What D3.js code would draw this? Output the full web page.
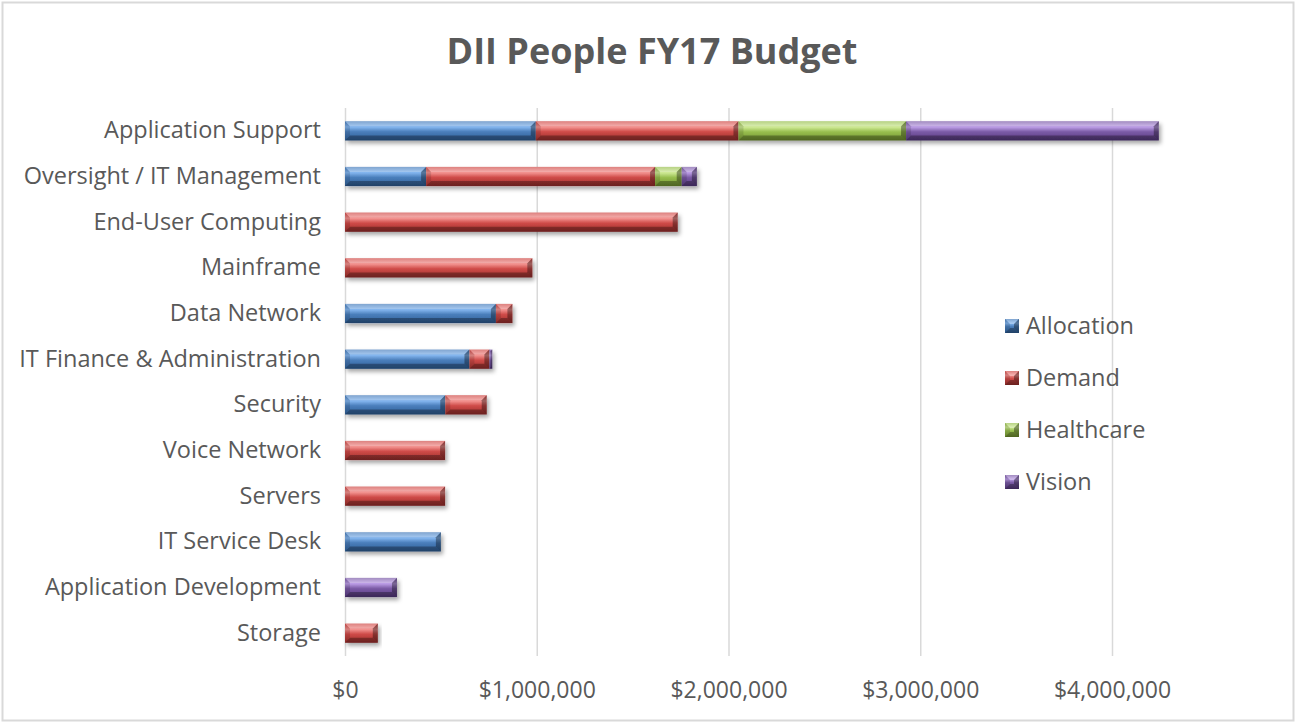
<!DOCTYPE html>
<html>
<head>
<meta charset="utf-8">
<script src="https://cdn.jsdelivr.net/npm/d3@7"></script>
<style>
  body { margin: 0; background: #fff; }
  svg { display: block; }
</style>
</head>
<body>
<div id="chart"></div>
<script>
const categories = [
  'Application Support', 'Oversight / IT Management', 'End-User Computing', 'Mainframe',
  'Data Network', 'IT Finance & Administration', 'Security', 'Voice Network',
  'Servers', 'IT Service Desk', 'Application Development', 'Storage'
]
const seriesNames = ['Allocation', 'Demand', 'Healthcare', 'Vision']
const allocation = [995000, 423000, 0, 0, 787000, 649000, 523000, 0, 0, 500000, 0, 0]
const demand = [1057000, 1194000, 1735000, 977000, 86000, 104000, 216000, 522000, 522000, 0, 0, 171000]
const healthcare = [874000, 139000, 0, 0, 0, 0, 0, 0, 0, 0, 0, 0]
const vision = [1318000, 79000, 0, 0, 0, 15000, 0, 0, 0, 0, 271000, 0]
const xTicks = [0, 1000000, 2000000, 3000000, 4000000]

const width = 1296, height = 723
const margin = { top: 108, left: 345, right: 184, bottom: 67 }
const fontFamily = '"Open Sans", Lato, sans-serif'
const textColor = '#595959'

const palette = {
  Allocation: { base: '#4a7ebb', light: '#84b6ef', dark: '#2f5f97' },
  Demand: { base: '#cf4b48', light: '#f39390', dark: '#9b2f2c' },
  Healthcare: { base: '#98bf4f', light: '#cfea96', dark: '#71922f' },
  Vision: { base: '#7b5ba6', light: '#bc9ee6', dark: '#57397f' }
}

const rows = categories.map((c, i) => ({
  category: c,
  Allocation: allocation[i],
  Demand: demand[i],
  Healthcare: healthcare[i],
  Vision: vision[i]
}))

const svg = d3.select('#chart').append('svg')
  .attr('width', width)
  .attr('height', height)

// outer chart border
svg.append('rect')
  .attr('x', 2.5).attr('y', 2.5)
  .attr('width', width - 5).attr('height', height - 5)
  .attr('fill', '#fff')
  .attr('stroke', '#d9d9d9')
  .attr('stroke-width', 2)

const defs = svg.append('defs')
defs.append('filter')
  .attr('id', 'shadow')
  .attr('x', '-10%').attr('y', '-50%').attr('width', '120%').attr('height', '200%')
  .append('feDropShadow')
  .attr('dx', 2).attr('dy', 3)
  .attr('stdDeviation', 2)
  .attr('flood-color', '#000')
  .attr('flood-opacity', 0.35)

seriesNames.forEach(name => {
  const p = palette[name]
  const g = defs.append('linearGradient')
    .attr('id', 'grad-' + name)
    .attr('x1', 0).attr('y1', 0).attr('x2', 0).attr('y2', 1)
  g.append('stop').attr('offset', '0%').attr('stop-color', p.base)
  g.append('stop').attr('offset', '30%').attr('stop-color', p.light)
  g.append('stop').attr('offset', '55%').attr('stop-color', p.base)
  g.append('stop').attr('offset', '100%').attr('stop-color', p.dark)
})

const x = d3.scaleLinear()
  .domain([0, 4000000])
  .range([margin.left, margin.left + 767])

const y = d3.scaleBand()
  .domain(categories)
  .range([margin.top, height - margin.bottom])
  .paddingInner(0.58)
  .paddingOuter(0.29)

// gridlines
const grid = svg.append('g')
  .attr('transform', `translate(0, ${height - margin.bottom})`)
  .call(d3.axisBottom(x).tickValues(xTicks).tickSize(-(height - margin.bottom - margin.top)).tickFormat(''))
grid.select('.domain').remove()
grid.selectAll('.tick line').attr('stroke', '#d9d9d9').attr('stroke-width', 1.5)

// x axis labels
const xAxis = svg.append('g')
  .attr('transform', `translate(0, ${height - margin.bottom})`)
  .call(d3.axisBottom(x).tickValues(xTicks).tickSize(0).tickPadding(26).tickFormat(d3.format('$,')))
xAxis.select('.domain').remove()
xAxis.selectAll('.tick text')
  .attr('font-size', 23)
  .attr('font-family', fontFamily)
  .style('fill', textColor)

// y axis labels
const yAxis = svg.append('g')
  .attr('transform', `translate(${margin.left}, 0)`)
  .call(d3.axisLeft(y).tickSize(0).tickPadding(24))
yAxis.select('.domain').remove()
yAxis.selectAll('.tick text')
  .attr('font-size', 23.5)
  .attr('font-family', fontFamily)
  .style('fill', textColor)

// bevelled segment
function drawBevel(g, x0, y0, w, h, name) {
  const b = Math.min(5, w / 2)
  const x1 = x0 + w, y1 = y0 + h
  g.append('rect')
    .attr('x', x0).attr('y', y0)
    .attr('width', w).attr('height', h)
    .attr('fill', `url(#grad-${name})`)
  g.append('polygon')
    .attr('points', [[x0, y0], [x1, y0], [x1 - b, y0 + b], [x0 + b, y0 + b]].join(' '))
    .attr('fill', '#fff').attr('opacity', 0.3)
  g.append('polygon')
    .attr('points', [[x0, y1], [x1, y1], [x1 - b, y1 - b], [x0 + b, y1 - b]].join(' '))
    .attr('fill', '#000').attr('opacity', 0.3)
  g.append('polygon')
    .attr('points', [[x0, y0], [x0 + b, y0 + b], [x0 + b, y1 - b], [x0, y1]].join(' '))
    .attr('fill', '#000').attr('opacity', 0.12)
  g.append('polygon')
    .attr('points', [[x1, y0], [x1 - b, y0 + b], [x1 - b, y1 - b], [x1, y1]].join(' '))
    .attr('fill', '#000').attr('opacity', 0.35)
}

const stacked = d3.stack().keys(seriesNames)(rows)

const gBars = svg.append('g').attr('class', 'bars')
categories.forEach((c, i) => {
  const row = gBars.append('g').attr('filter', 'url(#shadow)')
  stacked.forEach(layer => {
    const d = layer[i]
    if (d[1] - d[0] <= 0) return
    drawBevel(row, x(d[0]), y(c), x(d[1]) - x(d[0]), y.bandwidth(), layer.key)
  })
})

// title
svg.append('text')
  .text('DII People FY17 Budget')
  .attr('x', 652)
  .attr('y', 64)
  .attr('text-anchor', 'middle')
  .attr('font-size', 36)
  .attr('font-weight', 'bold')
  .attr('font-family', fontFamily)
  .style('fill', textColor)

// legend
const gLegend = svg.append('g').attr('transform', 'translate(1005, 326)')
seriesNames.forEach((name, i) => {
  const item = gLegend.append('g').attr('transform', `translate(0, ${i * 52})`)
  drawBevel(item, 0, -7, 14, 14, name)
  item.append('text')
    .text(name)
    .attr('x', 21)
    .attr('y', 8)
    .attr('font-size', 23.5)
    .attr('font-family', fontFamily)
    .style('fill', textColor)
})
</script>
</body>
</html>
